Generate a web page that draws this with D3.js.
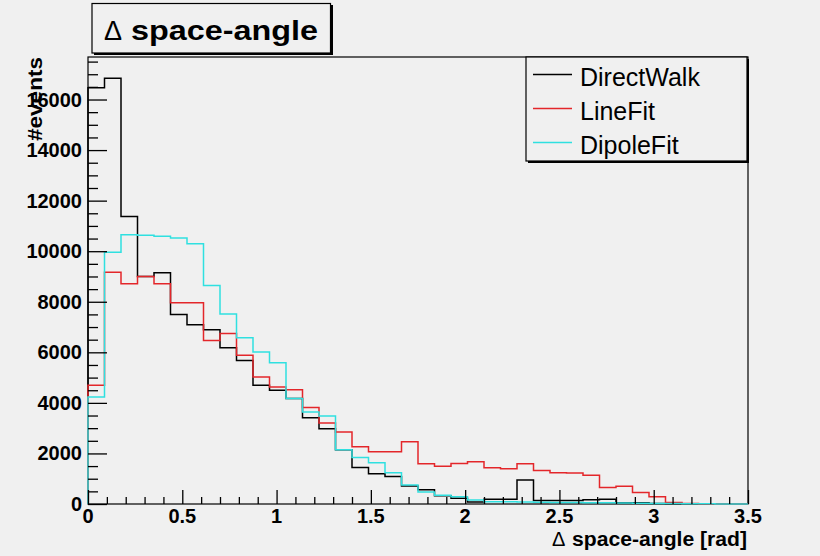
<!DOCTYPE html>
<html>
<head>
<meta charset="utf-8">
<script src="https://cdn.jsdelivr.net/npm/d3@7"></script>
<style>
  html, body { margin: 0; padding: 0; background: #f0f0f0; }
  svg { display: block; }
  text { font-family: "Liberation Sans", Arial, Helvetica, sans-serif; }
</style>
</head>
<body>
<svg id="chart" width="820" height="556"></svg>
<script>
// Histogram range: 40 equal bins between 0 and 3.5 rad
const xRange = [0, 3.5];

// Entries per bin, one array per reconstruction
const directWalk = [16470, 16840, 11370, 9000, 9150, 7500, 7090, 6890, 6180, 5680,
                    4700, 4500, 4170, 3410, 2980, 2150, 1440, 1200, 1090, 710,
                    560, 330, 230, 80, 190, 190, 950, 140, 140, 140,
                    170, 190, 50, 50, 20, 10, 5, 0, 0, 0];
const lineFit    = [4700, 9170, 8710, 9000, 8710, 7960, 7960, 6470, 6740, 5880,
                    5020, 4630, 4520, 3820, 3200, 2850, 2260, 2070, 2070, 2460,
                    1590, 1490, 1600, 1670, 1430, 1390, 1590, 1330, 1240, 1230,
                    1140, 650, 700, 450, 290, 60, 15, 0, 0, 0];
const dipoleFit  = [4230, 9960, 10650, 10630, 10590, 10520, 10290, 8640, 7520, 6580,
                    6010, 5590, 4170, 3640, 3480, 2150, 1840, 1630, 1240, 750,
                    470, 350, 290, 160, 90, 90, 80, 70, 60, 60,
                    50, 50, 40, 30, 20, 15, 10, 5, 0, 0];

const seriesNames  = ["DirectWalk", "LineFit", "DipoleFit"];
const seriesColors = ["#000000", "#e3262a", "#2fe0e0"];

// Axis ticks and labels
const xTickValues = [0, 0.5, 1, 1.5, 2, 2.5, 3, 3.5];
const xTickLabels = ["0", "0.5", "1", "1.5", "2", "2.5", "3", "3.5"];
const yTickValues = [0, 2000, 4000, 6000, 8000, 10000, 12000, 14000, 16000];
const yTickLabels = ["0", "2000", "4000", "6000", "8000", "10000", "12000", "14000", "16000"];

const titleText  = "space-angle";
const xTitleText = "space-angle [rad]";
const yTitleText = "#events";

// ---------------------------------------------------------------
const svg = d3.select("#chart");
const frame = { left: 88, right: 748, top: 57, bottom: 504 };

svg.append("rect").attr("width", 820).attr("height", 556).attr("fill", "#f0f0f0");

const allSeries = [directWalk, lineFit, dipoleFit];
const yMax = d3.max(allSeries.flat()) * 1.05;

const x = d3.scaleLinear().domain(xRange).range([frame.left, frame.right]);
const y = d3.scaleLinear().domain([0, yMax]).range([frame.bottom, frame.top]);

// plot frame
svg.append("rect")
  .attr("x", frame.left).attr("y", frame.top)
  .attr("width", frame.right - frame.left).attr("height", frame.bottom - frame.top)
  .attr("fill", "#f0f0f0").attr("stroke", "#000").attr("stroke-width", 1.2);

// histograms as step outlines
const nBins = directWalk.length;
const binW = (xRange[1] - xRange[0]) / nBins;
const stepLine = d3.line().x(d => x(d[0])).y(d => y(d[1])).curve(d3.curveStepAfter);

function histPoints(values) {
  const pts = [[xRange[0], 0]];
  values.forEach((v, i) => pts.push([xRange[0] + i * binW, v]));
  pts.push([xRange[1], 0]);
  return pts;
}

allSeries.forEach((vals, k) => {
  svg.append("path")
    .attr("d", stepLine(histPoints(vals)))
    .attr("fill", "none")
    .attr("stroke", seriesColors[k])
    .attr("stroke-width", 1.5);
});

// y axis: ticks drawn inward from the left edge
const yAxis = d3.axisRight(y)
  .tickValues(d3.range(0, yMax, 500))
  .tickSize(0).tickFormat("");
const yg = svg.append("g").attr("transform", `translate(${frame.left},0)`).call(yAxis);
yg.select(".domain").remove();
yg.selectAll(".tick line")
  .attr("x2", d => (d % 2000 === 0 ? 19 : 10))
  .attr("stroke", "#000").attr("stroke-width", 1.3);

svg.append("g").selectAll("text")
  .data(yTickValues)
  .join("text")
  .attr("x", 82)
  .attr("y", d => y(d) + 7)
  .attr("text-anchor", "end")
  .attr("font-size", 20).attr("font-weight", "bold")
  .text((d, i) => yTickLabels[i]);

// x axis: ticks drawn inward from the bottom edge
const xAxis = d3.axisTop(x)
  .tickValues(d3.range(0, 35.001, 1).map(v => v / 10))
  .tickSize(0).tickFormat("");
const xg = svg.append("g").attr("transform", `translate(0,${frame.bottom})`).call(xAxis);
xg.select(".domain").remove();
xg.selectAll(".tick line")
  .attr("y2", d => (Math.abs(d * 2 - Math.round(d * 2)) < 1e-6 ? -14 : -7))
  .attr("stroke", "#000").attr("stroke-width", 1.3);

svg.append("g").selectAll("text")
  .data(xTickValues)
  .join("text")
  .attr("x", d => x(d))
  .attr("y", 523)
  .attr("text-anchor", "middle")
  .attr("font-size", 20).attr("font-weight", "bold")
  .text((d, i) => xTickLabels[i]);

// axis titles
svg.append("text")
  .attr("x", 552).attr("y", 546)
  .attr("font-size", 20)
  .text("\u0394");
svg.append("text")
  .attr("x", 572).attr("y", 546)
  .attr("font-size", 20).attr("font-weight", "bold")
  .attr("textLength", 175).attr("lengthAdjust", "spacingAndGlyphs")
  .text(xTitleText);

svg.append("text")
  .attr("transform", "translate(42,57) rotate(-90)")
  .attr("text-anchor", "end")
  .attr("font-size", 20).attr("font-weight", "bold")
  .attr("textLength", 84).attr("lengthAdjust", "spacingAndGlyphs")
  .text(yTitleText);

// title box with shadow
svg.append("rect").attr("x", 94).attr("y", 5).attr("width", 239).attr("height", 50).attr("fill", "#000");
svg.append("rect").attr("x", 92).attr("y", 3.5).attr("width", 238.5).attr("height", 49.5)
  .attr("fill", "#f0f0f0").attr("stroke", "#000").attr("stroke-width", 1.2);
svg.append("text")
  .attr("x", 104).attr("y", 39.5)
  .attr("font-size", 27).attr("font-weight", "normal")
  .text("\u0394");
svg.append("text")
  .attr("x", 131).attr("y", 39.5)
  .attr("font-size", 27).attr("font-weight", "bold")
  .attr("textLength", 187).attr("lengthAdjust", "spacingAndGlyphs")
  .text(titleText);

// legend box with shadow
const leg = { x: 526, y: 57, w: 221, h: 104 };
svg.append("rect").attr("x", leg.x + 2).attr("y", leg.y + 2).attr("width", leg.w).attr("height", leg.h).attr("fill", "#000");
svg.append("rect").attr("x", leg.x).attr("y", leg.y).attr("width", leg.w).attr("height", leg.h)
  .attr("fill", "#f0f0f0").attr("stroke", "#000").attr("stroke-width", 1.2);

const legRows = [74.5, 108.5, 142.5];
seriesNames.forEach((name, k) => {
  svg.append("line")
    .attr("x1", 533).attr("x2", 572)
    .attr("y1", legRows[k]).attr("y2", legRows[k])
    .attr("stroke", seriesColors[k]).attr("stroke-width", 1.5);
  svg.append("text")
    .attr("x", 580).attr("y", legRows[k] + 11.5)
    .attr("font-size", 25)
    .text(name);
});
</script>
</body>
</html>
